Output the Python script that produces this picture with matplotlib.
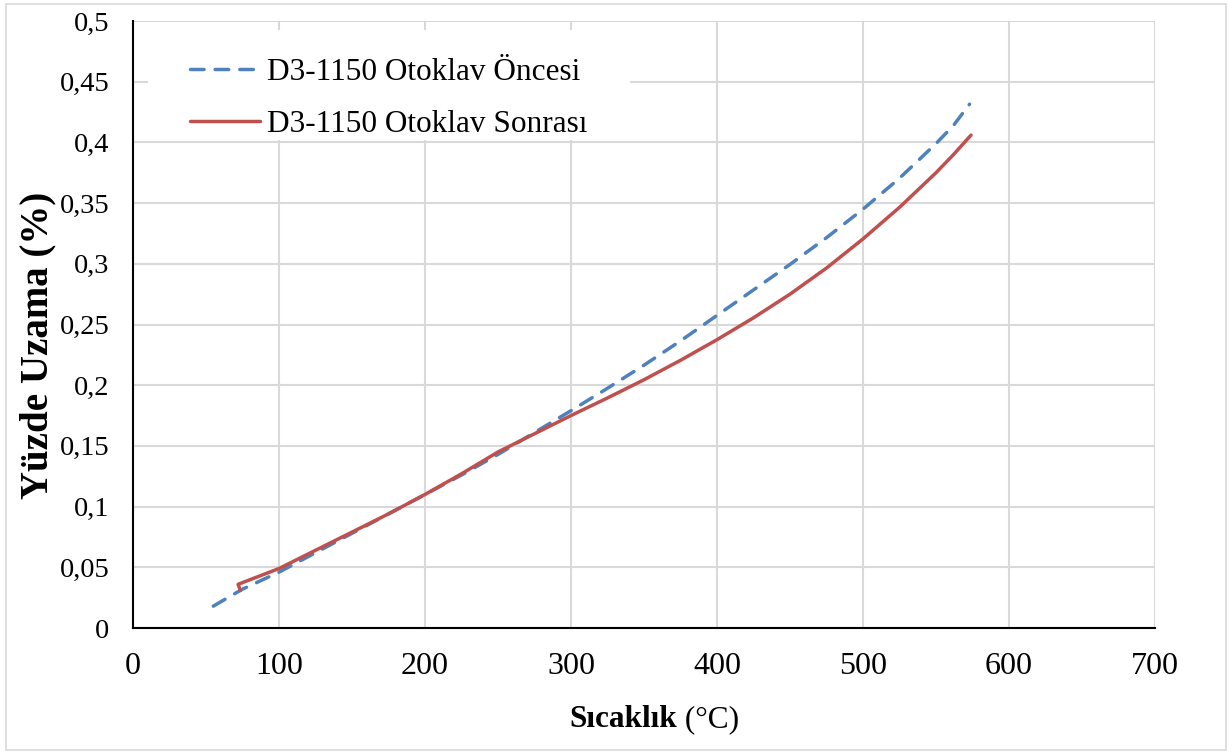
import matplotlib
matplotlib.use("Agg")
import matplotlib.pyplot as plt
from matplotlib.patches import Rectangle

plt.rcParams['font.family'] = ['Liberation Serif', 'DejaVu Serif']

# Data
temp_before = [55, 75, 100, 125, 150, 175, 200, 225, 250, 275, 300, 325, 350, 375,
               400, 425, 450, 475, 500, 525, 550, 562, 573]
strain_before = [0.018, 0.032, 0.046, 0.062, 0.078, 0.094, 0.110, 0.126, 0.143, 0.161,
                 0.179, 0.1975, 0.2165, 0.2365, 0.2575, 0.2785, 0.2995, 0.3215, 0.345,
                 0.3705, 0.399, 0.414, 0.4315]
temp_after = [73.5, 72, 100, 125, 150, 175, 200, 225, 250, 275, 300, 325, 350, 375,
              400, 425, 450, 475, 500, 525, 550, 562, 574]
strain_after = [0.031, 0.036, 0.049, 0.064, 0.079, 0.094, 0.110, 0.127, 0.145, 0.160,
                0.175, 0.1895, 0.2045, 0.2205, 0.2375, 0.2555, 0.275, 0.2965, 0.3205,
                0.3465, 0.375, 0.390, 0.406]
label_before = "D3-1150 Otoklav Öncesi"
label_after = "D3-1150 Otoklav Sonrası"
x_ticks = [0, 100, 200, 300, 400, 500, 600, 700]
y_ticks = [0, 0.05, 0.1, 0.15, 0.2, 0.25, 0.3, 0.35, 0.4, 0.45, 0.5]

W, H = 1232, 754
fig = plt.figure(figsize=(W / 100, H / 100), dpi=100)
fig.patches.append(Rectangle((0.005, 0.005), 0.99, 0.99, transform=fig.transFigure,
                             fill=False, edgecolor='#d9d9d9', linewidth=1.2))
ax_l, ax_r, ax_t, ax_b = 133, 1155, 21, 628
ax = fig.add_axes([ax_l / W, 1 - ax_b / H, (ax_r - ax_l) / W, (ax_b - ax_t) / H])

ax.plot(temp_before, strain_before, color='#4F81BD', linewidth=2.5,
        dashes=(3.9, 3.2), dash_capstyle='round', solid_joinstyle='round',
        label=label_before, zorder=3)
ax.plot(temp_after, strain_after, color='#C0504D', linewidth=2.5,
        solid_capstyle='round', solid_joinstyle='round', label=label_after, zorder=3)

ax.set_xlim(0, 700)
ax.set_ylim(0, 0.5)
ax.set_xticks(x_ticks)
ax.set_yticks(y_ticks)
ax.set_xticklabels([str(v) for v in x_ticks])
ax.set_yticklabels([f"{v:g}".replace('.', ',') for v in y_ticks])
ax.tick_params(axis='both', length=0)
ax.tick_params(axis='x', labelsize=23, pad=17)
ax.tick_params(axis='y', labelsize=20.5, pad=17)
ax.grid(True, color='#d9d9d9', linewidth=1.5)
ax.set_axisbelow(True)
for s in ['top', 'right']:
    ax.spines[s].set_visible(False)
for s in ['left', 'bottom']:
    ax.spines[s].set_linewidth(1.5)
    ax.spines[s].set_color('black')

fig.text(38 / W, 1 - 345 / H, "Yüzde Uzama (%)", fontsize=28, fontweight='bold',
         rotation=90, ha='center', va='center')

t1 = fig.text(677 / W, 1 - 727 / H, "Sıcaklık", fontsize=22.5, fontweight='bold',
              ha='right', va='baseline')
ax.annotate(" (°C)", xy=(1, 0), xycoords=t1, fontsize=22.5, ha='left', va='bottom',
            annotation_clip=False)

# white background behind the legend (hides the grid)
ax.add_patch(Rectangle(((148 - ax_l) / (ax_r - ax_l), (ax_b - 140) / (ax_b - ax_t)),
                       (630 - 148) / (ax_r - ax_l), (140 - 30) / (ax_b - ax_t),
                       transform=ax.transAxes, facecolor='white', edgecolor='none',
                       zorder=1.5))
leg = ax.legend(loc='upper left',
                bbox_to_anchor=((190 - ax_l) / (ax_r - ax_l), (ax_b - 58) / (ax_b - ax_t)),
                fontsize=22.5, frameon=False, handlelength=2.25, handletextpad=0.2,
                labelspacing=0.72, borderpad=0, borderaxespad=0)

fig.savefig("out.png", dpi=100)
